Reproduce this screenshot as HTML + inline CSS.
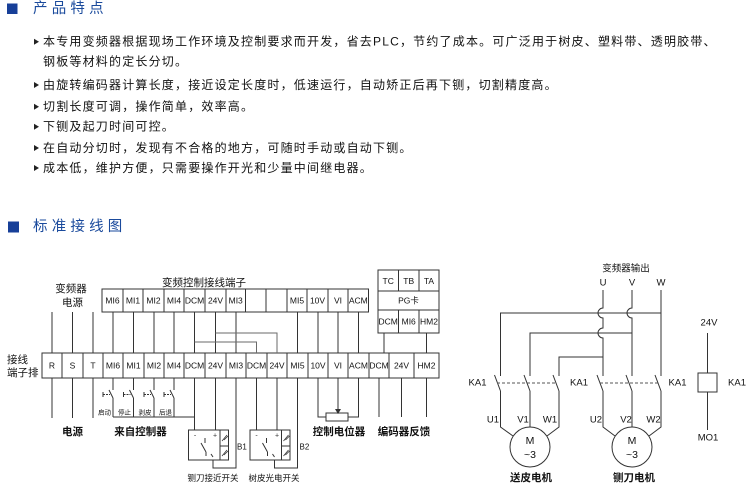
<!DOCTYPE html>
<html><head><meta charset="utf-8">
<style>
html,body{margin:0;padding:0;background:#fff;}
svg{display:block;}
text{font-family:"Liberation Sans","Noto Sans CJK SC",sans-serif;}
</style></head><body>
<svg width="750" height="493" viewBox="0 0 750 493" xmlns="http://www.w3.org/2000/svg">
<!-- Section 1 -->
<rect x="7" y="3.5" width="10.5" height="10.5" fill="#173f98"/>
<text x="33" y="9" font-size="14.5" letter-spacing="4.2" fill="#1a4a9c" dominant-baseline="central">产品特点</text>
<g fill="#222">
<polygon points="34,38.7 34,44.7 39,41.7"/>
<polygon points="34,82 34,88 39,85"/>
<polygon points="34,103.7 34,109.7 39,106.7"/>
<polygon points="34,123.7 34,129.7 39,126.7"/>
<polygon points="34,145 34,151 39,148"/>
<polygon points="34,165 34,171 39,168"/>
</g>
<g font-size="12" letter-spacing="1.2" fill="#111" dominant-baseline="central">
<text x="43" y="41.7">本专用变频器根据现场工作环境及控制要求而开发，省去PLC，节约了成本。可广泛用于树皮、塑料带、透明胶带、</text>
<text x="43" y="61.7">钢板等材料的定长分切。</text>
<text x="43" y="85">由旋转编码器计算长度，接近设定长度时，低速运行，自动矫正后再下铡，切割精度高。</text>
<text x="43" y="106.7">切割长度可调，操作简单，效率高。</text>
<text x="43" y="126.7">下铡及起刀时间可控。</text>
<text x="43" y="148">在自动分切时，发现有不合格的地方，可随时手动或自动下铡。</text>
<text x="43" y="168">成本低，维护方便，只需要操作开光和少量中间继电器。</text>
</g>
<!-- Section 2 -->
<rect x="8" y="221.5" width="11" height="11" fill="#173f98"/>
<text x="33" y="227" font-size="14.5" letter-spacing="4.2" fill="#1a4a9c" dominant-baseline="central">标准接线图</text>

<!-- Diagram labels -->
<g font-size="10.5" fill="#111" text-anchor="middle" dominant-baseline="central">
<text x="71" y="289">变频器</text>
<text x="72.5" y="303">电源</text>
<text x="204" y="283">变频控制接线端子</text>
<text x="72.5" y="432" font-weight="bold">电源</text>
<text x="140.5" y="432" font-weight="bold">来自控制器</text>
<text x="339" y="432" font-weight="bold">控制电位器</text>
<text x="404" y="432" font-weight="bold">编码器反馈</text>
</g>
<g font-size="10.5" fill="#111" dominant-baseline="central">
<text x="7" y="360">接线</text>
<text x="7" y="373">端子排</text>
</g>

<g stroke="#333" stroke-width="1" fill="none">
<!-- top control row -->
<rect x="102" y="289" width="266.5" height="23"/>
<path d="M123 289V312M143 289V312M164 289V312M184 289V312M205 289V312M226 289V312M245.5 289V312M266 289V312M287 289V312M307 289V312M328 289V312M348 289V312"/>
<!-- PG box -->
<rect x="378" y="270" width="61" height="63"/>
<path d="M378 291H439M378 310H439M398.5 270V291M419 270V291M398.5 310V333M419 310V333"/>
<!-- bottom row -->
<rect x="42" y="353" width="397" height="25"/>
<path d="M62 353V378M83 353V378M103 353V378M123 353V378M144 353V378M164 353V378M184 353V378M205 353V378M226 353V378M246 353V378M267 353V378M287 353V378M308 353V378M328 353V378M348 353V378M369 353V378M389 353V378M414 353V378"/>
<!-- verticals between rows -->
<path d="M52 312V353M72.5 312V353M93 312V353M113 312V353M133.5 312V353M154 312V353M174 312V353M194.5 312V353M215.5 312V353M236 312V353M297.5 312V353M318 312V353M338 312V353M358.5 312V353M384 333V353M426.5 333V353"/>
</g>
<path d="M194.5 342H256.5V353M215.5 333H277V353" stroke="#6a6a6a" fill="none"/>

<!-- labels in cells -->
<g font-size="8.5" fill="#111" text-anchor="middle" dominant-baseline="central">
<text x="112.5" y="300.5">MI6</text><text x="133" y="300.5">MI1</text><text x="153.5" y="300.5">MI2</text><text x="174" y="300.5">MI4</text><text x="194.5" y="300.5">DCM</text><text x="215.5" y="300.5">24V</text><text x="235.7" y="300.5">MI3</text><text x="297" y="300.5">MI5</text><text x="317.5" y="300.5">10V</text><text x="338" y="300.5">VI</text><text x="358.3" y="300.5">ACM</text>
<text x="388.2" y="281">TC</text><text x="408.7" y="281">TB</text><text x="429" y="281">TA</text>
<text x="408.5" y="300.5">PG卡</text>
<text x="388.2" y="321.5">DCM</text><text x="408.7" y="321.5">MI6</text><text x="429" y="321.5">HM2</text>
<text x="52" y="365.5">R</text><text x="72.5" y="365.5">S</text><text x="93" y="365.5">T</text><text x="113" y="365.5">MI6</text><text x="133.5" y="365.5">MI1</text><text x="154" y="365.5">MI2</text><text x="174" y="365.5">MI4</text><text x="194.5" y="365.5">DCM</text><text x="215.5" y="365.5">24V</text><text x="236" y="365.5">MI3</text><text x="256.5" y="365.5">DCM</text><text x="277" y="365.5">24V</text><text x="297.5" y="365.5">MI5</text><text x="318" y="365.5">10V</text><text x="338" y="365.5">VI</text><text x="358.5" y="365.5">ACM</text><text x="379" y="365.5">DCM</text><text x="401.5" y="365.5">24V</text><text x="426.5" y="365.5">HM2</text>
</g>

<!-- below the bottom row -->
<g stroke="#333" stroke-width="1" fill="none">
<path d="M52 378V418M72.5 378V418M93 378V418"/>
<!-- switches -->
<path d="M113 378V390M109 390L113 398M113 398V417"/>
<path d="M133.5 378V390M129.5 390L133.5 398M133.5 398V417"/>
<path d="M154 378V390M150 390L154 398M154 398V417"/>
<path d="M174 378V390M170 390L174 398M174 398V417"/>
<path d="M103 392V397M123.5 392V397M144 392V397M164 392V397" stroke-width="1"/>
<path d="M103 394.5H110M123.5 394.5H130.5M144 394.5H151M164 394.5H171" stroke-dasharray="2 1"/>
<path d="M113 417H194.5"/>
<path d="M194.5 378V430M215.5 378V430M256.5 378V430M277 378V430"/>
<path d="M236 378V468H213V460M297.5 378V468H274.5V460"/>
<!-- potentiometer -->
<path d="M318 378V417H326M348 417H358.5V378M338 378V410"/>
<rect x="326" y="413" width="22" height="8"/>
<!-- encoder -->
<path d="M379 378V417M401.5 378V417M426.5 378V417"/>
<!-- sensor boxes -->
<rect x="188.5" y="430" width="40" height="30"/>
<path d="M220 430V460M220 446H228.5"/>
<path d="M205 438V443M201 443L206 452M206 452V456M211 454L213 457"/>
<path d="M222 441L227 435M224 440L228 436M222 456L227 450M224 455L228 451" stroke-width="0.8"/>
<rect x="250" y="430" width="40" height="30"/>
<path d="M281.5 430V460M281.5 446H290"/>
<path d="M266.5 438V443M262.5 443L267.5 452M267.5 452V456M272.5 454L274.5 457"/>
<path d="M283.5 441L288.5 435M285.5 440L289.5 436M283.5 456L288.5 450M285.5 455L289.5 451" stroke-width="0.8"/>
</g>
<polygon points="335,409 341,409 338,414" fill="#333"/>
<g font-size="7" fill="#333" text-anchor="middle" dominant-baseline="central">
<text x="195" y="436">-</text><text x="215" y="436">+</text>
<text x="256.5" y="436">-</text><text x="277" y="436">+</text>
</g>
<g font-size="6.5" fill="#111" text-anchor="middle" dominant-baseline="central">
<text x="104.5" y="413">启动</text><text x="124.5" y="413">停止</text><text x="145" y="413">剥皮</text><text x="165.5" y="413">后退</text>
</g>
<g font-size="8" fill="#111" dominant-baseline="central">
<text x="237" y="447">B1</text><text x="299.5" y="447">B2</text>
</g>
<g font-size="8.5" fill="#111" text-anchor="middle" dominant-baseline="central">
<text x="213" y="478">铡刀接近开关</text>
<text x="274" y="478">树皮光电开关</text>
</g>

<!-- Right side -->
<g font-size="9.5" fill="#111" text-anchor="middle" dominant-baseline="central">
<text x="626" y="269">变频器输出</text>
<text x="603" y="283">U</text><text x="632" y="283">V</text><text x="661" y="283">W</text>
<text x="709" y="323">24V</text>
<text x="708" y="438">MO1</text>
<text x="477.5" y="383">KA1</text><text x="579" y="383">KA1</text><text x="677.5" y="383">KA1</text><text x="737" y="383">KA1</text>
<text x="493" y="420">U1</text><text x="523" y="420">V1</text><text x="550" y="420">W1</text>
<text x="596" y="420">U2</text><text x="626" y="420">V2</text><text x="653.5" y="420">W2</text>
</g>
<g font-size="10.5" fill="#111" text-anchor="middle" dominant-baseline="central">
<text x="530" y="441">M</text><text x="530" y="455">~3</text>
<text x="632" y="441">M</text><text x="632" y="455">~3</text>
<text x="531" y="478" font-weight="bold">送皮电机</text>
<text x="634" y="478" font-weight="bold">铡刀电机</text>
</g>
<g stroke="#333" stroke-width="1" fill="none">
<path d="M603 290V308A5 5 0 0 0 603 318V328A5 5 0 0 0 603 338V376"/>
<path d="M632 290V308A5 5 0 0 0 632 318V376"/>
<path d="M661 290V376"/>
<path d="M661 313H500.5V376M632 333H530V376M603 357H559V376"/>
<!-- contacts -->
<path d="M494.5 375L500.5 391M524 375L530 391M553 375L559 391M597 375L603 391M626 375L632 391M655 375L661 391"/>
<path d="M500.5 391V427L513 436M530 391V427M559 391V427L547 436"/>
<path d="M603 391V427L615 436M632 391V427M661 391V427L649 436"/>
<circle cx="530" cy="447" r="20"/>
<circle cx="632" cy="447" r="20"/>
<!-- relay -->
<path d="M707.5 333V373M707.5 392V430"/>
<rect x="698" y="373" width="19" height="19"/>
</g>
<path d="M497 383H556M600 383H658" stroke="#555" stroke-dasharray="3 2" fill="none"/>
</svg>
</body></html>
